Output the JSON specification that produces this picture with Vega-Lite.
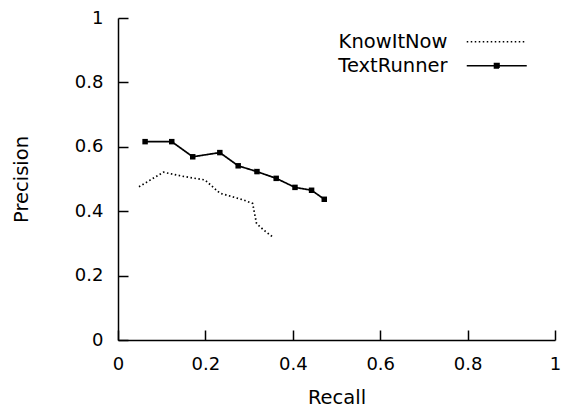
{
  "$schema": "https://vega.github.io/schema/vega-lite/v6.json",
  "width": 437,
  "height": 322,
  "autosize": {"type": "none"},
  "padding": {"left": 118, "top": 18, "right": 8, "bottom": 69},
  "background": "white",
  "config": {
    "view": {"stroke": null},
    "font": "DejaVu Sans",
    "axis": {
      "domainColor": "black",
      "domainWidth": 1.5,
      "tickColor": "black",
      "tickWidth": 1.5,
      "tickSize": -10,
      "labelFont": "DejaVu Sans",
      "labelFontSize": 18,
      "labelColor": "black",
      "titleFont": "DejaVu Sans",
      "titleFontSize": 19.5,
      "titleFontWeight": "normal",
      "titleColor": "black",
      "grid": false
    }
  },
  "data": {
    "values": [
      {"series": "KnowItNow", "recall": 0.048, "precision": 0.476},
      {"series": "KnowItNow", "recall": 0.104, "precision": 0.521},
      {"series": "KnowItNow", "recall": 0.150, "precision": 0.508},
      {"series": "KnowItNow", "recall": 0.199, "precision": 0.497},
      {"series": "KnowItNow", "recall": 0.233, "precision": 0.456},
      {"series": "KnowItNow", "recall": 0.287, "precision": 0.435},
      {"series": "KnowItNow", "recall": 0.308, "precision": 0.424},
      {"series": "KnowItNow", "recall": 0.317, "precision": 0.362},
      {"series": "KnowItNow", "recall": 0.333, "precision": 0.342},
      {"series": "KnowItNow", "recall": 0.355, "precision": 0.319},
      {"series": "TextRunner", "recall": 0.062, "precision": 0.616},
      {"series": "TextRunner", "recall": 0.123, "precision": 0.616},
      {"series": "TextRunner", "recall": 0.171, "precision": 0.569},
      {"series": "TextRunner", "recall": 0.233, "precision": 0.582},
      {"series": "TextRunner", "recall": 0.275, "precision": 0.541},
      {"series": "TextRunner", "recall": 0.318, "precision": 0.523},
      {"series": "TextRunner", "recall": 0.362, "precision": 0.502},
      {"series": "TextRunner", "recall": 0.405, "precision": 0.474},
      {"series": "TextRunner", "recall": 0.443, "precision": 0.465},
      {"series": "TextRunner", "recall": 0.472, "precision": 0.437}
    ]
  },
  "encoding": {
    "x": {
      "field": "recall", "type": "quantitative",
      "scale": {"domain": [0, 1], "nice": false, "zero": false},
      "axis": {"title": "Recall", "values": [0, 0.2, 0.4, 0.6, 0.8, 1], "format": "~g", "labelPadding": 25, "titlePadding": 15, "labelFlush": false}
    },
    "y": {
      "field": "precision", "type": "quantitative",
      "scale": {"domain": [0, 1], "nice": false, "zero": false},
      "axis": {"title": "Precision", "values": [0, 0.2, 0.4, 0.6, 0.8, 1], "format": "~g", "labelPadding": 25, "titlePadding": 43, "labelFlush": false}
    }
  },
  "layer": [
    {
      "mark": {"type": "line", "color": "black", "strokeWidth": 1.7},
      "encoding": {
        "strokeDash": {
          "field": "series", "type": "nominal",
          "scale": {"domain": ["KnowItNow", "TextRunner"], "range": [[1.5, 2.5], [1, 0]]},
          "legend": {
            "title": null,
            "orient": "none",
            "legendX": 369,
            "legendY": 14,
            "symbolSize": 100,
            "symbolStrokeWidth": 1.6,
            "symbolStrokeColor": "black",
            "labelFont": "DejaVu Sans",
            "labelFontSize": 19.5,
            "labelColor": "black",
            "labelAlign": "right",
            "labelOffset": -59,
            "rowPadding": 3,
            "encode": {
              "symbols": {
                "update": {
                  "shape": {"signal": "datum.value === 'TextRunner' ? 'M-6,0H6M-0.45,-0.45H0.45V0.45H-0.45Z' : 'M-6,0H6'"},
                  "fill": {"signal": "datum.value === 'TextRunner' ? 'black' : 'transparent'"},
                  "stroke": {"value": "black"}
                }
              }
            }
          }
        }
      }
    },
    {
      "transform": [{"filter": "datum.series === 'TextRunner'"}],
      "mark": {"type": "point", "shape": "square", "filled": true, "color": "black", "size": 30, "opacity": 1}
    }
  ]
}
